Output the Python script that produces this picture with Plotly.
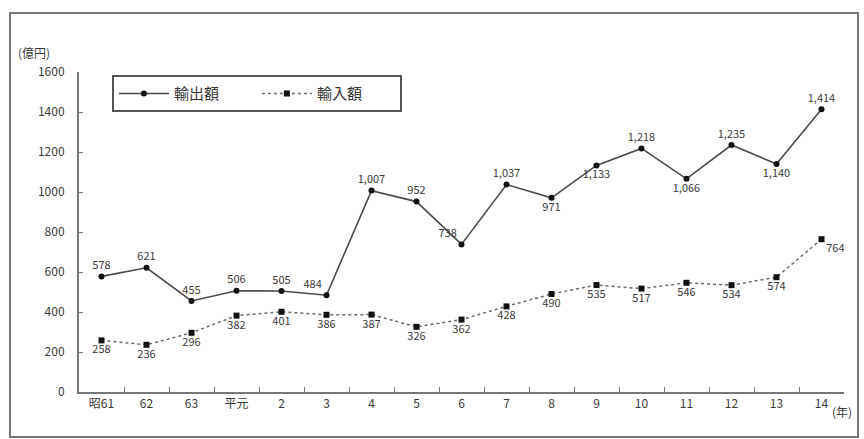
import plotly.graph_objects as go

# 年次（昭和61年〜平成14年）
years = ["昭61", "62", "63", "平元", "2", "3", "4", "5", "6", "7",
         "8", "9", "10", "11", "12", "13", "14"]

# 輸出額・輸入額（億円）
exports = [578, 621, 455, 506, 505, 484, 1007, 952, 738, 1037,
           971, 1133, 1218, 1066, 1235, 1140, 1414]
imports = [258, 236, 296, 382, 401, 386, 387, 326, 362, 428,
           490, 535, 517, 546, 534, 574, 764]

export_pos = ["top center", "top center", "top center", "top center", "top center",
              "top left", "top center", "top center", "top left", "top center",
              "bottom center", "bottom center", "top center", "bottom center",
              "top center", "bottom center", "top center"]
import_pos = ["bottom center"] * 16 + ["bottom right"]

y_ticks = [0, 200, 400, 600, 800, 1000, 1200, 1400, 1600]

LINE = "#4a4a4a"
TEXT = "#3a3a3a"
FONT = "Noto Sans CJK JP"

fig = go.Figure()

fig.add_trace(go.Scatter(
    x=years, y=exports, name="輸出額",
    mode="lines+markers+text",
    line=dict(color=LINE, width=1.6),
    marker=dict(symbol="circle", size=6, color="#111"),
    text=[f"{v:,}" for v in exports],
    textposition=export_pos,
    textfont=dict(family=FONT, size=11, color=TEXT),
))

fig.add_trace(go.Scatter(
    x=years, y=imports, name="輸入額",
    mode="lines+markers+text",
    line=dict(color="#6a6a6a", width=1.5, dash="dot"),
    marker=dict(symbol="square", size=6, color="#111"),
    text=[f"{v:,}" for v in imports],
    textposition=import_pos,
    textfont=dict(family=FONT, size=11, color=TEXT),
))

fig.update_layout(
    width=864, height=439,
    margin=dict(l=79, r=20, t=72, b=47),
    paper_bgcolor="white", plot_bgcolor="white",
    font=dict(family=FONT, size=12, color=TEXT),
    showlegend=True,
    legend=dict(
        orientation="h", x=0.043, y=0.99, xanchor="left", yanchor="top",
        bgcolor="white", bordercolor="#555", borderwidth=2,
        font=dict(family=FONT, size=15, color="#333"),
        itemwidth=50, entrywidthmode="pixels", entrywidth=78,
    ),
    xaxis=dict(
        type="category", range=[-0.5, 16.5],
        showline=True, linecolor="#777", linewidth=2,
        ticks="inside", ticklen=5, tickcolor="#777", tickson="boundaries",
        showgrid=False, zeroline=False,
        tickfont=dict(family=FONT, size=12, color=TEXT),
    ),
    yaxis=dict(
        range=[0, 1600], tickvals=y_ticks,
        ticktext=[str(v) for v in y_ticks],
        showline=True, linecolor="#777", linewidth=2,
        ticks="inside", ticklen=4, tickcolor="#777",
        ticklabelstandoff=10,
        showgrid=False, zeroline=False,
        tickfont=dict(family=FONT, size=12, color=TEXT),
    ),
    shapes=[dict(
        type="rect", xref="paper", yref="paper",
        x0=-69 / 765, x1=(858 - 79) / 765,
        y0=-(437 - 392) / 320, y1=(392 - 13) / 320,
        line=dict(color="#777", width=2), layer="below",
    )],
    annotations=[
        dict(text="(億円)", xref="paper", yref="paper",
             x=-27 / 765, y=(392 - 52) / 320, xanchor="right", yanchor="middle",
             showarrow=False, font=dict(family=FONT, size=12, color=TEXT)),
        dict(text="(年)", xref="paper", yref="paper",
             x=(830 - 79) / 765, y=-(411 - 392) / 320, xanchor="left", yanchor="middle",
             showarrow=False, font=dict(family=FONT, size=12, color=TEXT)),
    ],
)

fig.write_html("out.html")
